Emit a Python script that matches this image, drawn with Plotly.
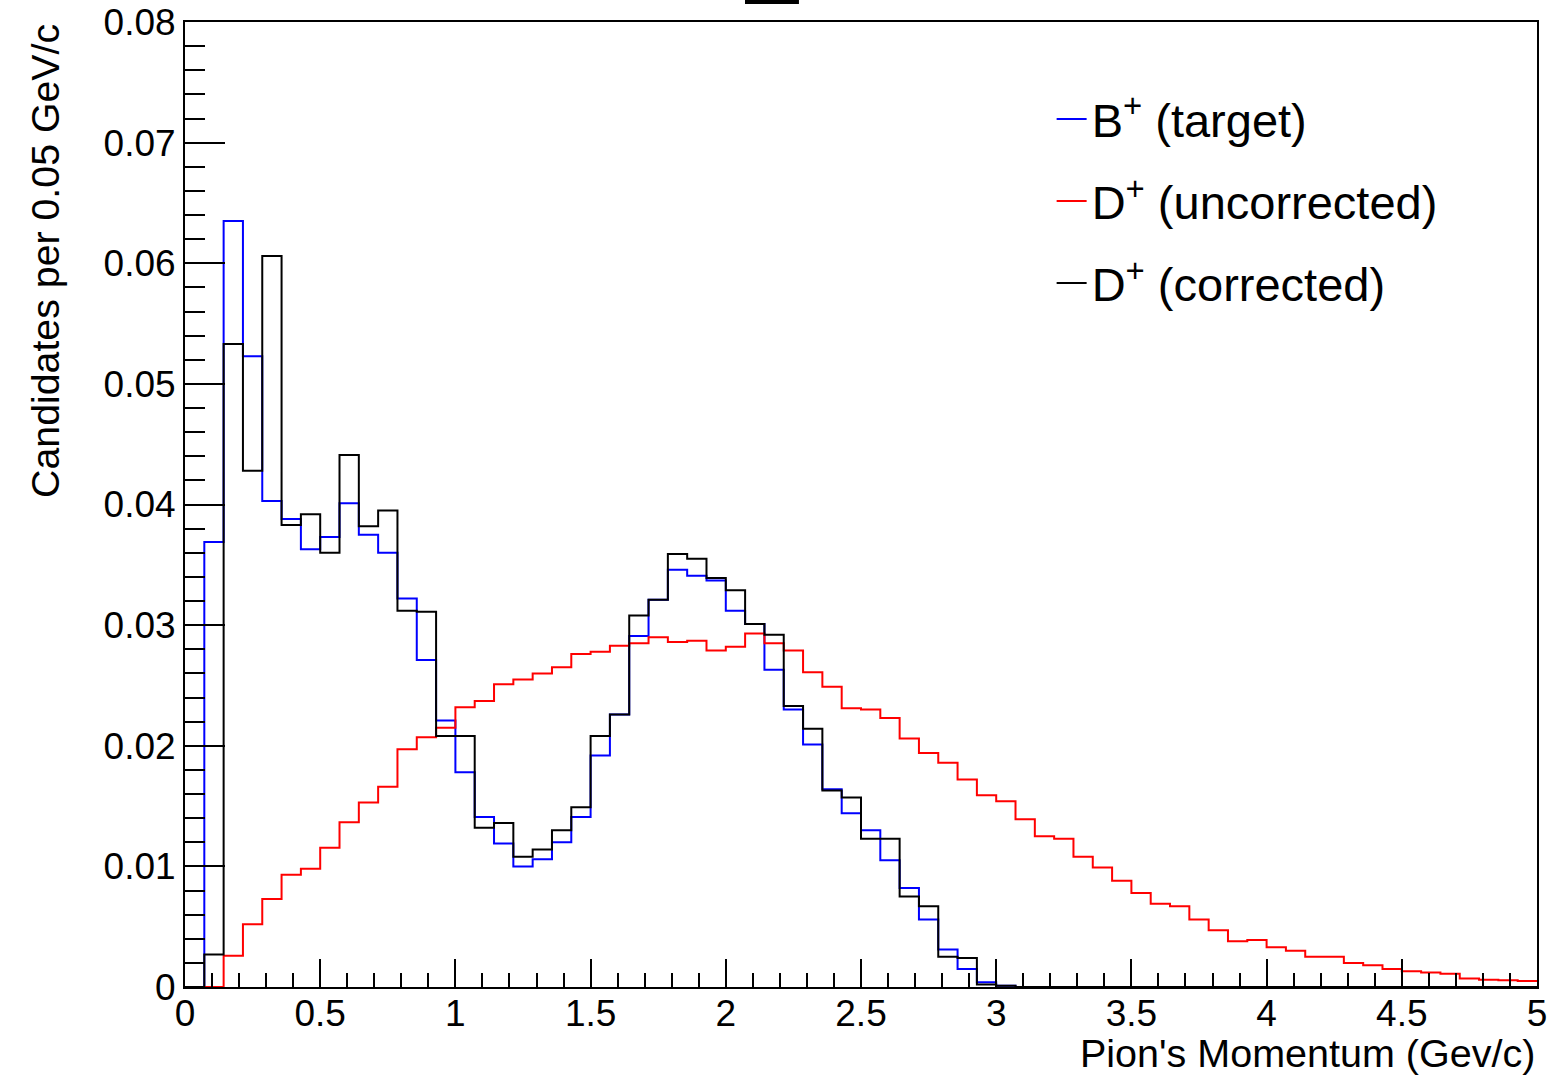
import numpy as np
import plotly.graph_objects as go

# ---- data (70 bins from 0 to 5 GeV/c) ----
x_min, x_max, n_bins = 0.0, 5.0, 70

b_target = [0, 0.0369, 0.0635, 0.0523, 0.0403, 0.0388, 0.0363, 0.0373, 0.0401, 0.0375,
            0.0360, 0.0322, 0.0271, 0.0221, 0.0178, 0.0141, 0.0119, 0.0100, 0.0106, 0.0120,
            0.0141, 0.0192, 0.0226, 0.0291, 0.0321, 0.0346, 0.0341, 0.0337, 0.0312, 0.0301,
            0.0263, 0.0230, 0.0201, 0.0164, 0.0144, 0.0130, 0.0105, 0.0082, 0.0056, 0.0031,
            0.0015, 0.0004, 0.0001, 0, 0, 0, 0, 0, 0, 0,
            0, 0, 0, 0, 0, 0, 0, 0, 0, 0,
            0, 0, 0, 0, 0, 0, 0, 0, 0, 0]

d_uncorrected = [0, 0, 0.0026, 0.0052, 0.0073, 0.0093, 0.0098, 0.01155, 0.01365, 0.0153,
                 0.0166, 0.0197, 0.0207, 0.0215, 0.0232, 0.0237, 0.0251, 0.0255, 0.0260, 0.0265,
                 0.0276, 0.0278, 0.0283, 0.0285, 0.0290, 0.0286, 0.0287, 0.0279, 0.0282, 0.0293,
                 0.0285, 0.0279, 0.0261, 0.0249, 0.0231, 0.0230, 0.0223, 0.0206, 0.0194, 0.0186,
                 0.0172, 0.0159, 0.0154, 0.0139, 0.0125, 0.0123, 0.0108, 0.0099, 0.0088, 0.0078,
                 0.0069, 0.0067, 0.0056, 0.0047, 0.0038, 0.0039, 0.0033, 0.0030, 0.0025, 0.0025,
                 0.0020, 0.0018, 0.0015, 0.0013, 0.0012, 0.0011, 0.0007, 0.0006, 0.00055, 0.0005]

d_corrected = [0, 0.0027, 0.0533, 0.0428, 0.0606, 0.0383, 0.0392, 0.0360, 0.0441, 0.0382,
               0.0395, 0.0312, 0.0311, 0.0208, 0.0208, 0.0132, 0.0136, 0.0108, 0.0114, 0.0130,
               0.0149, 0.0208, 0.0226, 0.0308, 0.0321, 0.0359, 0.0355, 0.0339, 0.0329, 0.0301,
               0.0292, 0.0233, 0.0214, 0.0163, 0.0157, 0.0123, 0.0123, 0.0075, 0.0067, 0.0025,
               0.0024, 0.0002, 0.0001, 0, 0, 0, 0, 0, 0, 0,
               0, 0, 0, 0, 0, 0, 0, 0, 0, 0,
               0, 0, 0, 0, 0, 0, 0, 0, 0, 0]

series_names = ["B<sup>+</sup> (target)", "D<sup>+</sup> (uncorrected)", "D<sup>+</sup> (corrected)"]
series_colors = ["#0000ff", "#ff0000", "#000000"]
x_title = "Pion's Momentum (Gev/c)"
y_title = "Candidates per 0.05 GeV/c"

edges = np.linspace(x_min, x_max, n_bins + 1)

FONT = "Liberation Sans, Arial, Helvetica, sans-serif"

fig = go.Figure()
for vals, name, col in zip([b_target, d_uncorrected, d_corrected], series_names, series_colors):
    fig.add_trace(go.Scatter(
        x=edges, y=list(vals) + [vals[-1]],
        mode="lines", line=dict(color=col, width=2, shape="hv"),
        name=name, legendgroup=name,
    ))

fig.update_layout(
    width=1547, height=1082,
    margin=dict(l=185, r=10, t=22, b=95, autoexpand=False),
    paper_bgcolor="white", plot_bgcolor="white",
    font=dict(family=FONT, color="black"),
    showlegend=True,
    legend=dict(x=0.641, y=0.938, xanchor="left", yanchor="top",
                bgcolor="rgba(0,0,0,0)", borderwidth=0,
                font=dict(size=47, family=FONT, color="black"),
                tracegroupgap=18),
    xaxis=dict(range=[x_min, x_max], showgrid=False, zeroline=False, automargin=False,
               showline=True, linecolor="black", linewidth=2, mirror=True,
               ticks="inside", ticklen=28, tickwidth=2, tickcolor="black",
               dtick=0.5, tick0=0, tickformat="~g", ticklabelstandoff=-7,
               ticklabeloverflow="allow",
               minor=dict(ticks="inside", ticklen=14, tickwidth=2, tickcolor="black", dtick=0.1),
               tickfont=dict(size=37, family=FONT, color="black")),
    yaxis=dict(range=[0, 0.08], showgrid=False, zeroline=False, automargin=False,
               showline=True, linecolor="black", linewidth=2, mirror=True,
               ticks="inside", ticklen=40, tickwidth=2, tickcolor="black",
               dtick=0.01, tick0=0, tickformat="~g", ticklabeloverflow="allow",
               minor=dict(ticks="inside", ticklen=20, tickwidth=2, tickcolor="black", dtick=0.002),
               tickfont=dict(size=37, family=FONT, color="black")),
    annotations=[
        dict(text=x_title, xref="paper", yref="paper", x=1.0, y=-0.068,
             xanchor="right", yanchor="middle", showarrow=False,
             font=dict(size=39.5, family=FONT, color="black")),
        dict(text=y_title, xref="paper", yref="paper", x=-0.1036, y=1.0,
             xanchor="center", yanchor="top", textangle=-90, showarrow=False,
             font=dict(size=39.3, family=FONT, color="black")),
    ],
    shapes=[
        dict(type="rect", xref="paper", yref="paper", x0=0.4142, x1=0.4541,
             y0=1.0187, y1=1.03, fillcolor="black", line=dict(width=0)),
    ],
)

fig.write_html("out.html")
